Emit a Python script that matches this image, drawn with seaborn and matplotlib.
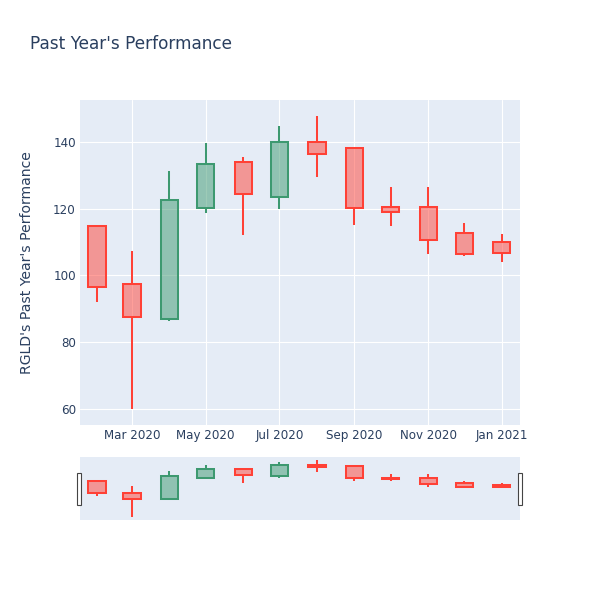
"""
Candlestick chart of monthly prices with a range-slider style overview strip
"""
import pandas as pd
import seaborn as sns
import matplotlib
matplotlib.use('Agg')
import matplotlib.pyplot as plt
import matplotlib.dates as mdates
from matplotlib.colors import to_rgba
from matplotlib.patches import Rectangle

# ==================== data ====================
dates = pd.to_datetime([
    '2020-02-01', '2020-03-01', '2020-04-01', '2020-05-01', '2020-06-01', '2020-07-01',
    '2020-08-01', '2020-09-01', '2020-10-01', '2020-11-01', '2020-12-01', '2021-01-01',
])
opens = [114.8, 97.5, 87.0, 120.1, 134.0, 123.5, 140.0, 138.2, 120.5, 120.5, 112.6, 110.0]
highs = [114.8, 107.3, 131.1, 139.6, 135.3, 144.7, 147.7, 138.2, 126.4, 126.5, 115.6, 112.3]
lows = [91.9, 59.9, 86.4, 118.6, 112.2, 119.8, 129.3, 115.1, 114.8, 106.3, 105.9, 103.9]
closes = [96.4, 87.6, 122.6, 133.3, 124.3, 140.0, 136.3, 120.2, 118.9, 110.5, 106.5, 106.8]

TITLE = "Past Year's Performance"
Y_LABEL = "RGLD's Past Year's Performance"

# ==================== style ====================
INC = '#3D9970'
DEC = '#FF4136'
TEXT = '#2a3f5f'
BG = '#E5ECF6'
BODY_DAYS = 14.2
LW = 1.45

sns.set_theme(style='darkgrid', rc={
    'axes.facecolor': BG,
    'grid.color': 'white',
    'grid.linewidth': 0.8,
    'axes.edgecolor': BG,
    'xtick.color': TEXT,
    'ytick.color': TEXT,
})
plt.rcParams['font.family'] = ['DejaVu Sans']

df = pd.DataFrame({'date': dates, 'open': opens, 'high': highs, 'low': lows, 'close': closes})
df['up'] = df['close'] >= df['open']
df['body_lo'] = df[['open', 'close']].min(axis=1)
df['body_hi'] = df[['open', 'close']].max(axis=1)


def draw_candles(ax):
    for is_up, color in [(True, INC), (False, DEC)]:
        d = df[df['up'] == is_up]
        ax.bar(d['date'], d['body_hi'] - d['body_lo'], bottom=d['body_lo'], width=BODY_DAYS,
               color=to_rgba(color, 0.5), edgecolor=color, linewidth=LW, zorder=3)
        ax.vlines(d['date'], d['low'], d['body_lo'], color=color, linewidth=LW, zorder=3)
        ax.vlines(d['date'], d['body_hi'], d['high'], color=color, linewidth=LW, zorder=3)


xmin = dates[0] - pd.Timedelta(days=14)
xmax = dates[-1] + pd.Timedelta(days=15)
ylim = (55.2, 152.5)

fig = plt.figure(figsize=(6, 6), dpi=100)

# main chart
ax = fig.add_axes([80 / 600, 1 - 425 / 600, 440 / 600, 325 / 600])
draw_candles(ax)
ax.set_xlim(xmin, xmax)
ax.set_ylim(*ylim)
ax.set_yticks([60, 80, 100, 120, 140])
ax.xaxis.set_major_locator(mdates.MonthLocator(bymonth=[1, 3, 5, 7, 9, 11]))
ax.xaxis.set_major_formatter(mdates.DateFormatter('%b %Y'))
ax.tick_params(length=0, labelsize=8.6, pad=3)
for s in ax.spines.values():
    s.set_visible(False)
ax.set_ylabel(Y_LABEL, fontsize=10.1, color=TEXT, va='center')
ax.yaxis.set_label_coords(-0.12, 0.5)

# range slider strip
ax2 = fig.add_axes([80 / 600, 1 - 520 / 600, 440 / 600, 63 / 600])
draw_candles(ax2)
ax2.set_xlim(xmin, xmax)
ax2.set_ylim(*ylim)
ax2.grid(False)
ax2.set_xticks([])
ax2.set_yticks([])
for s in ax2.spines.values():
    s.set_visible(False)

# slider handles
for hx in (77, 518):
    fig.add_artist(Rectangle((hx / 600, 1 - 505 / 600), 4 / 600, 32 / 600,
                             transform=fig.transFigure, facecolor='white',
                             edgecolor='#444444', linewidth=0.8))

fig.text(30 / 600, 1 - 44 / 600, TITLE, fontsize=12.2, color=TEXT, va='center', ha='left')

fig.savefig('out.png', dpi=100)
plt.close('all')
